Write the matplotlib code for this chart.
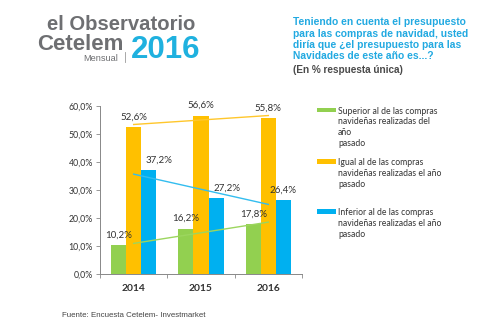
import numpy as np
import matplotlib.pyplot as plt
from matplotlib.patches import Rectangle

# survey results, % of answers per year
years = ['2014', '2015', '2016']
superior = [10.2, 16.2, 17.8]
igual = [52.6, 56.6, 55.8]
inferior = [37.2, 27.2, 26.4]

series_labels = [
    'Superior al de las compras\nnavideñas realizadas del\naño\npasado',
    'Igual al de las compras\nnavideñas realizadas el año\npasado',
    'Inferior al de las compras\nnavideñas realizadas el año\npasado',
]
series_colors = ['#92D050', '#FFC000', '#00B0F0']
trend_colors = ['#9CD65E', '#FFC72C', '#33BDEF']

title_lines = ('Teniendo en cuenta el presupuesto\n'
               'para las compras de navidad, usted\n'
               'diría que ¿el presupuesto para las\n'
               'Navidades de este año es...?')
subtitle = '(En % respuesta única)'
source = 'Fuente: Encuesta Cetelem- Investmarket'

chart_font = 'Lato'
head_font = 'Liberation Sans'

fig = plt.figure(figsize=(5, 3.36), dpi=100)
fig.patch.set_facecolor('white')

# --- header: logo on the left, question on the right
fig.text(0.094, 0.912, 'el Observatorio', family=head_font, weight='bold',
         fontsize=14.6, color='#6E6F72', va='baseline', ha='left')
fig.text(0.074, 0.851, 'Cetelem', family=head_font, weight='bold',
         fontsize=16.0, color='#6E6F72', va='baseline', ha='left')
fig.text(0.262, 0.828, '2016', family=head_font, weight='bold',
         fontsize=22.5, color='#1FB1DF', va='baseline', ha='left')
fig.text(0.166, 0.817, 'Mensual', family=head_font, fontsize=6.6,
         color='#6E6F72', va='baseline', ha='left')
fig.add_artist(plt.Line2D([0.250, 0.250], [0.815, 0.846], color='#9A9A9A', lw=0.6))

fig.text(0.586, 0.948, title_lines, family=head_font, weight='bold',
         fontsize=7.4, color='#21A9E1', va='top', ha='left', linespacing=1.14)
fig.text(0.586, 0.806, subtitle, family=head_font, weight='bold',
         fontsize=7.2, color='#4A4A4A', va='top', ha='left')

# --- bar chart
ax = fig.add_axes([0.2, 0.1845, 0.404, 0.5])
x = np.arange(len(years))
width = 0.225
data = [superior, igual, inferior]
offsets = [-width, 0, width]
label_nudge = [[0, 0, 0], [0, 0, 0], [10, 11, 0]]

for vals, off, col, tcol, nudge in zip(data, offsets, series_colors, trend_colors, label_nudge):
    ax.bar(x + off, vals, width, color=col, edgecolor='none')
    for xi, v, dx in zip(x, vals, nudge):
        ax.annotate(f'{v:.1f}%'.replace('.', ','), (xi + off, v),
                    xytext=(dx * 0.72, 7.2), textcoords='offset points',
                    ha='center', va='center', fontsize=7, color='#333333',
                    family=chart_font)
    # linear trend across the three years
    slope, inter = np.polyfit(x, vals, 1)
    ax.plot(x, slope * x + inter, color=tcol, lw=1.0)

ax.set_xlim(-0.5, len(years) - 0.5)
ax.set_ylim(0, 60)
ax.set_yticks(np.arange(0, 61, 10))
ax.set_yticklabels([f'{t:.1f}%'.replace('.', ',') for t in np.arange(0, 61, 10)],
                   family=chart_font, fontsize=6.3, color='#333333')
ax.set_xticks(x)
ax.set_xticklabels(years, family=chart_font, fontsize=7.4, weight='bold', color='#333333')
ax.tick_params(axis='x', length=0, pad=7)
ax.set_xticks(np.arange(-0.5, len(years), 1), minor=True)
ax.tick_params(axis='x', which='minor', length=3, color='#888888', width=0.6)
ax.tick_params(axis='y', length=3, color='#888888', width=0.6, pad=2)
for side in ['top', 'right']:
    ax.spines[side].set_visible(False)
for side in ['left', 'bottom']:
    ax.spines[side].set_color('#888888')
    ax.spines[side].set_linewidth(0.7)

# --- legend drawn on the right
legend_tops = [0.672, 0.519, 0.370]
for lab, col, ytop in zip(series_labels, series_colors, legend_tops):
    fig.add_artist(Rectangle((0.634, ytop - 0.006), 0.037, 0.013,
                             transform=fig.transFigure, color=col, lw=0))
    fig.text(0.676, ytop + 0.011, lab, family=chart_font, fontsize=6.2,
             color='#333333', va='top', ha='left', linespacing=1.28)

fig.text(0.124, 0.06, source, family=head_font, fontsize=5.7,
         color='#444444', va='center', ha='left')

fig.savefig('out.png', dpi=100, facecolor='white')
